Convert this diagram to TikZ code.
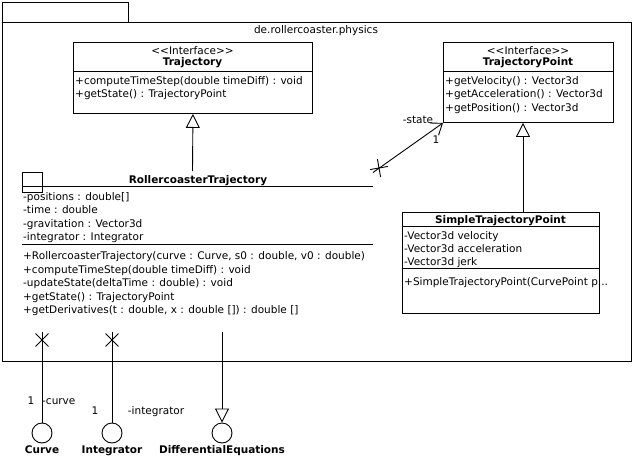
\documentclass[tikz,border=0pt]{standalone}
\usepackage{fontspec}
\setmainfont{DejaVu Sans}
\usetikzlibrary{arrows.meta,positioning,shapes.misc}
\newcommand{\umlfont}{\fontsize{10.5}{12}\selectfont}

\tikzset{
  uml/.style={draw, line width=0.9pt},
  classbox/.style={uml, anchor=north west, inner sep=0pt},
  member/.style={anchor=base west, inner sep=0pt, font=\umlfont},
  classname/.style={anchor=base, inner sep=0pt, font=\umlfont\bfseries},
  stereo/.style={anchor=base, inner sep=0pt, font=\umlfont},
  rolelabel/.style={anchor=base, inner sep=0pt, font=\umlfont},
  inherit/.style={uml, -{Triangle[open, length=14pt, width=14pt]}},
  navarrow/.style={uml, -{Straight Barb[length=10pt, width=15pt]}},
  noend/.style={draw, cross out, line width=0.9pt, minimum size=12pt, inner sep=0pt},
  iface/.style={uml, circle, minimum size=20pt, inner sep=0pt},
  ifacename/.style={inner sep=0pt, font=\umlfont\bfseries}
}

\begin{document}
\begin{tikzpicture}[x=1pt, y=-1pt]
  \useasboundingbox (0,0) rectangle (636,460);

  % package
  \draw[uml] (2,2) rectangle (128,22);
  \draw[uml] (2,22) rectangle (631,361);
  \node[stereo] (pkgname) at (316,34) {de.rollercoaster.physics};

  % Trajectory
  \node[classbox, minimum width=239pt, minimum height=71pt] (traj) at (73,42) {};
  \draw[uml] (traj.north west) ++(0,29) -- ++(239,0);
  \node[stereo] (trajst) at (192.5,54) {<{}<Interface>{}>};
  \node[classname] (trajname) at (192.5,66) {Trajectory};
  \foreach \txt [count=\i] in {{+computeTimeStep(double timeDiff) : void},
      {+getState() : TrajectoryPoint}}
    \node[member] (trajop\i) at ({75},{84+13.5*(\i-1)}) {\txt};

  % TrajectoryPoint
  \node[classbox, minimum width=170pt, minimum height=80pt] (tp) at (443,42) {};
  \draw[uml] (tp.north west) ++(0,29) -- ++(170,0);
  \node[stereo] (tpst) at (528,54) {<{}<Interface>{}>};
  \node[classname] (tpname) at (528,66) {TrajectoryPoint};
  \foreach \txt [count=\i] in {{+getVelocity() : Vector3d},
      {+getAcceleration() : Vector3d}, {+getPosition() : Vector3d}}
    \node[member] (tpop\i) at ({445},{84+13.5*(\i-1)}) {\txt};

  % RollercoasterTrajectory
  \node[classbox, minimum size=20pt] (rt) at (22,172) {};
  \draw[uml] (rt.north west) ++(0,14) -- ++(351,0);
  \draw[uml] (rt.north west) ++(0,72) -- ++(351,0);
  \node[classname] (rtname) at (198,183) {RollercoasterTrajectory};
  \foreach \txt [count=\i] in {{-positions : double[]}, {-time : double},
      {-gravitation : Vector3d}, {-integrator : Integrator}}
    \node[member] (rtattr\i) at ({23},{200+13.5*(\i-1)}) {\txt};
  \foreach \txt [count=\i] in {{+RollercoasterTrajectory(curve : Curve, s0 : double, v0 : double)},
      {+computeTimeStep(double timeDiff) : void}, {-updateState(deltaTime : double) : void},
      {+getState() : TrajectoryPoint}, {+getDerivatives(t : double, x : double []) : double []}}
    \node[member] (rtop\i) at ({23},{259.5+13.5*(\i-1)}) {\txt};

  % SimpleTrajectoryPoint
  \node[classbox, minimum width=197pt, minimum height=101pt] (stp) at (402,212) {};
  \draw[uml] (stp.north west) ++(0,14) -- ++(197,0);
  \draw[uml] (stp.north west) ++(0,56) -- ++(197,0);
  \node[classname] (stpname) at (500.5,223) {SimpleTrajectoryPoint};
  \foreach \txt [count=\i] in {{-Vector3d velocity}, {-Vector3d acceleration},
      {-Vector3d jerk}}
    \node[member] (stpattr\i) at ({404},{239+13*(\i-1)}) {\txt};
  \node[member] (stpop1) at (404,285) {+SimpleTrajectoryPoint(CurvePoint p...};

  % generalizations
  \coordinate (rttop) at (192.5,171);
  \draw[inherit] (rttop) -- (traj.south);
  \coordinate (stptop) at (523,212);
  \draw[inherit] (stptop) -- (stptop |- tp.south);

  % association state
  \coordinate (rtcorner) at (373,172.5);
  \draw[navarrow] (rtcorner) -- (tp.south west);
  \node[noend, rotate=-35] (statex) at (379,168) {};
  \node[rolelabel] (staterole) at (418,123) {-state};
  \node[rolelabel] (statemult) at (436,143) {1};

  % provided interfaces
  \node[iface] (curve) at (42,433) {};
  \node[iface] (integ) at (112,433) {};
  \node[iface] (diffeq) at (222,433) {};
  \node[ifacename, below=2pt of curve] (curvename) {Curve};
  \node[ifacename, below=2pt of integ] (integname) {Integrator};
  \node[ifacename, below=2pt of diffeq] (diffeqname) {DifferentialEquations};

  \coordinate (curvetop) at (42,332);
  \coordinate (integtop) at (112,332);
  \coordinate (diffeqtop) at (222,332);
  \draw[uml] (curvetop) -- (curve.north);
  \draw[uml] (integtop) -- (integ.north);
  \draw[inherit] (diffeqtop) -- (diffeq.north);
  \node[noend] (curvex) at (42,340) {};
  \node[noend] (integx) at (112,340) {};

  \node[rolelabel] (curvemult) at (31,404) {1};
  \node[rolelabel, anchor=base west] (curverole) at (42,404) {-curve};
  \node[rolelabel] (integmult) at (95,414) {1};
  \node[rolelabel] (integrole) at (156,414) {-integrator};
\end{tikzpicture}
\end{document}
